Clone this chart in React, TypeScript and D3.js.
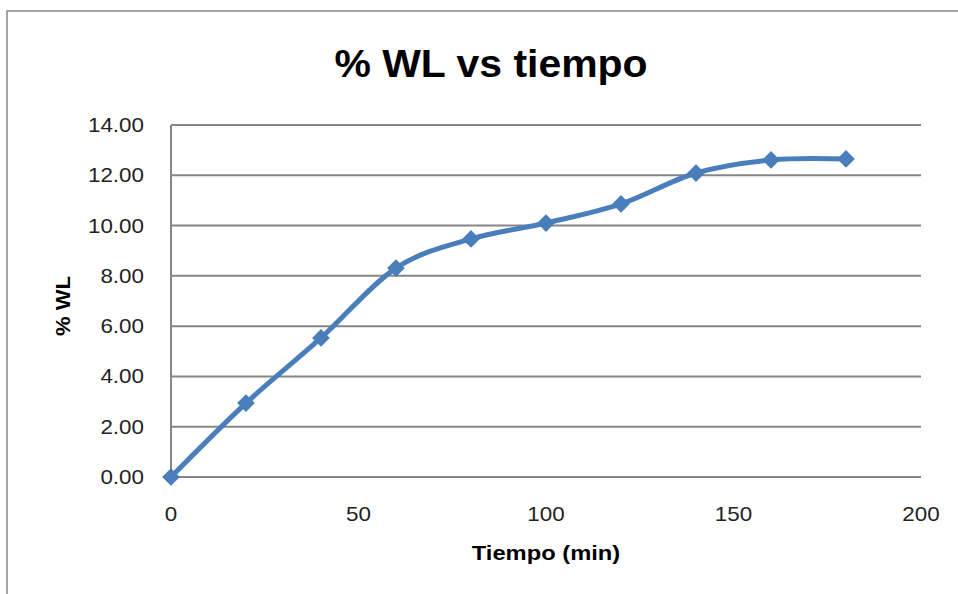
import React from "react";
import * as d3 from "d3";

// Weight loss (%) measured over time
const tiempo = [0, 20, 40, 60, 80, 100, 120, 140, 160, 180];
const wl = [0, 2.94, 5.53, 8.31, 9.47, 10.1, 10.86, 12.09, 12.61, 12.65];
const xTicks = [0, 50, 100, 150, 200];
const yTicks = [0, 2, 4, 6, 8, 10, 12, 14];

const W = 958;
const H = 594;
const FONT = "'Liberation Sans', Arial, sans-serif";
const SX = 1.12; // horizontal stretch for text

export default function App() {
  const x = d3.scaleLinear().domain([0, 200]).range([171, 921]);
  const y = d3.scaleLinear().domain([0, 14]).range([477, 125]);

  const line = d3
    .line<number>()
    .x((_, i) => x(tiempo[i]))
    .y((d) => y(d))
    .curve(d3.curveCardinal.tension(0));

  const diamond = d3.symbol().type(d3.symbolDiamond2).size(200)();

  return (
    <svg
      width={W}
      height={H}
      style={{ position: "absolute", left: 0, top: 0, background: "#fff" }}
    >
      {/* chart frame */}
      <rect x={7} y={11} width={W + 10} height={H + 10} fill="#fff" stroke="#888" strokeWidth={1.5} />

      {/* title */}
      <text
        transform={`translate(491,77) scale(1.05,1)`}
        textAnchor="middle"
        fontFamily={FONT}
        fontWeight="bold"
        fontSize={39}
        fill="#000"
      >
        % WL vs tiempo
      </text>

      {/* horizontal gridlines */}
      {yTicks.map((t) => (
        <line key={"g" + t} x1={x(0)} x2={x(200)} y1={y(t)} y2={y(t)} stroke="#868686" strokeWidth={2} />
      ))}
      {/* vertical axis line */}
      <line x1={x(0)} x2={x(0)} y1={y(0)} y2={y(14)} stroke="#868686" strokeWidth={2} />

      {/* y tick labels */}
      {yTicks.map((t) => (
        <text
          key={"yl" + t}
          transform={`translate(144,${y(t) + 7}) scale(${SX},1)`}
          textAnchor="end"
          fontFamily={FONT}
          fontSize={20}
          fill="#222"
        >
          {t.toFixed(2)}
        </text>
      ))}

      {/* x tick labels */}
      {xTicks.map((t) => (
        <text
          key={"xl" + t}
          transform={`translate(${x(t)},521) scale(${SX},1)`}
          textAnchor="middle"
          fontFamily={FONT}
          fontSize={20}
          fill="#222"
        >
          {t}
        </text>
      ))}

      {/* axis titles */}
      <text
        transform={`translate(546,560) scale(1.13,1)`}
        textAnchor="middle"
        fontFamily={FONT}
        fontWeight="bold"
        fontSize={21}
        fill="#000"
      >
        Tiempo (min)
      </text>
      <text
        transform={`translate(70,306) rotate(-90) scale(1.1,1)`}
        textAnchor="middle"
        fontFamily={FONT}
        fontWeight="bold"
        fontSize={20}
        fill="#000"
      >
        % WL
      </text>

      {/* series */}
      <path d={line(wl) || ""} fill="none" stroke="#4A7EBB" strokeWidth={5} strokeLinejoin="round" />
      {wl.map((v, i) => (
        <path key={"m" + i} d={diamond || ""} transform={`translate(${x(tiempo[i])},${y(v)})`} fill="#4A7EBB" />
      ))}
    </svg>
  );
}
